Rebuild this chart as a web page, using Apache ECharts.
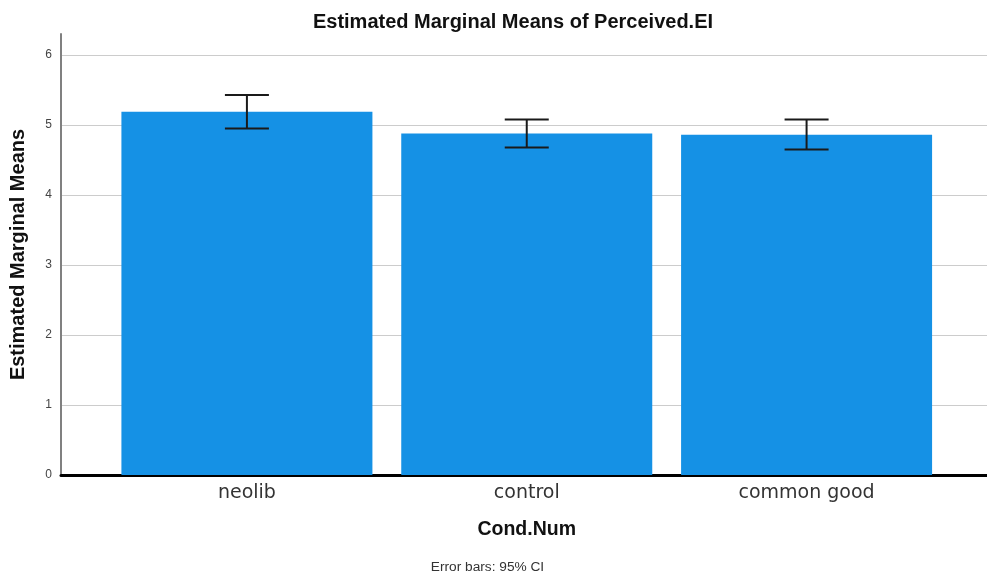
<!DOCTYPE html>
<html>
<head>
<meta charset="utf-8">
<script src="https://cdn.jsdelivr.net/npm/echarts@6/dist/echarts.min.js"></script>
<style>
  html, body { margin: 0; padding: 0; background: #fff; }
  #chart { width: 987px; height: 578px; }
</style>
</head>
<body>
<div id="chart"></div>
<script>
// Estimated marginal means of Perceived.EI by condition, with 95% CIs
const categories = ['neolib', 'control', 'common good'];
const means = [5.19, 4.88, 4.86];
const ciLower = [4.95, 4.68, 4.65];
const ciUpper = [5.43, 5.08, 5.08];
const yTicks = [0, 1, 2, 3, 4, 5, 6];

const errorData = categories.map((c, i) => [i, ciLower[i], ciUpper[i]]);

const chart = echarts.init(document.getElementById('chart'), null, { renderer: 'canvas' });

const yMin = yTicks[0];
const yMax = 6.3;
const sansFont = 'Liberation Sans, Arial, sans-serif';

chart.setOption({
  backgroundColor: '#ffffff',
  animation: false,
  title: {
    text: 'Estimated Marginal Means of Perceived.EI',
    left: 508,
    textAlign: 'center',
    top: 7,
    textStyle: { fontFamily: sansFont, fontSize: 20, fontWeight: 'bold', color: '#111' }
  },
  grid: [
    // frame grid: y axis, gridlines and baseline across the full width
    { left: 61, right: 0, top: 34, bottom: 103, outerBoundsMode: 'none' },
    // bar grid: inset from the frame
    { left: 107, right: 40.5, top: 34, bottom: 103, outerBoundsMode: 'none' }
  ],
  xAxis: [
    {
      gridIndex: 0, type: 'category', data: [''],
      axisLine: { show: true, lineStyle: { color: '#000', width: 3 } },
      axisTick: { show: false }, axisLabel: { show: false }, splitLine: { show: false }
    },
    {
      gridIndex: 1, type: 'category', data: categories,
      axisLine: { show: false }, axisTick: { show: false },
      axisLabel: { margin: 9, fontFamily: 'DejaVu Sans, sans-serif', fontSize: 19, color: '#333' },
      name: 'Cond.Num', nameLocation: 'middle', nameGap: 45,
      nameTextStyle: { fontFamily: sansFont, fontSize: 19.5, fontWeight: 'bold', color: '#111' }
    }
  ],
  yAxis: [
    {
      gridIndex: 0, type: 'value', min: yMin, max: yMax, interval: 1,
      axisLine: { show: true, lineStyle: { color: '#808080', width: 2 } },
      axisTick: { show: false },
      axisLabel: {
        margin: 9, fontFamily: sansFont, fontSize: 12, color: '#444',
        padding: [4, 0, 0, 0],
        formatter: v => (yTicks.indexOf(v) >= 0 ? String(v) : '')
      },
      splitLine: { show: true, showMaxLine: false, lineStyle: { color: '#cccccc', width: 1 } },
      name: 'Estimated Marginal Means', nameLocation: 'middle', nameGap: 33, nameRotate: 90,
      nameTextStyle: { fontFamily: sansFont, fontSize: 20, fontWeight: 'bold', color: '#111' }
    },
    {
      gridIndex: 1, type: 'value', min: yMin, max: yMax, interval: 1, show: false,
      splitLine: { show: false }
    }
  ],
  series: [
    {
      type: 'bar', xAxisIndex: 1, yAxisIndex: 1,
      data: means, barWidth: 251,
      itemStyle: { color: '#1591e5' }
    },
    {
      type: 'custom', xAxisIndex: 1, yAxisIndex: 1,
      data: errorData, z: 5,
      renderItem: function (params, api) {
        const x = api.value(0);
        const lo = api.coord([x, api.value(1)]);
        const hi = api.coord([x, api.value(2)]);
        const half = 22;
        const style = { stroke: '#1a1a1a', lineWidth: 2 };
        return {
          type: 'group',
          children: [
            { type: 'line', shape: { x1: hi[0], y1: hi[1], x2: lo[0], y2: lo[1] }, style },
            { type: 'line', shape: { x1: hi[0] - half, y1: hi[1], x2: hi[0] + half, y2: hi[1] }, style },
            { type: 'line', shape: { x1: lo[0] - half, y1: lo[1], x2: lo[0] + half, y2: lo[1] }, style }
          ]
        };
      }
    }
  ],
  graphic: [
    {
      type: 'text', x: 487.5, y: 560,
      style: {
        text: 'Error bars: 95% CI', align: 'center', verticalAlign: 'top',
        fontFamily: sansFont, fontSize: 13.7, fill: '#333'
      }
    }
  ]
});
</script>
</body>
</html>
